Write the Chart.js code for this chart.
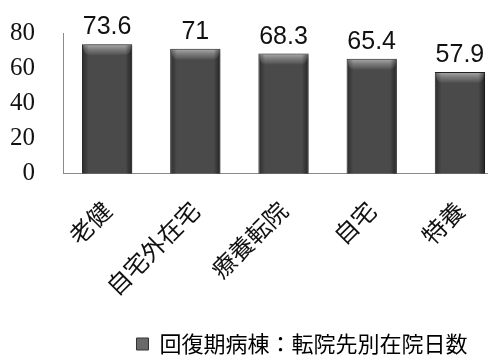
<!DOCTYPE html>
<html>
<head>
<meta charset="utf-8">
<script src="https://cdn.jsdelivr.net/npm/chart.js@4/dist/chart.umd.min.js"></script>
<style>
  html, body { margin: 0; padding: 0; background: #fff; overflow: hidden; }
  #wrap { width: 504px; height: 357px; }
</style>
</head>
<body>
<div id="wrap"><canvas id="c" width="504" height="357"></canvas></div>
<script>
// 転院先別の在院日数（回復期病棟）
const categories = ['老健', '自宅外在宅', '療養転院', '自宅', '特養'];
const stayDays = [73.6, 71, 68.3, 65.4, 57.9];
const yTicks = [0, 20, 40, 60, 80];
const seriesName = '回復期病棟：転院先別在院日数';

const CJK = '"Noto Sans CJK JP", "Noto Sans", sans-serif';

// value labels above each bar, taken from the bar's own data value
const valueLabels = {
  id: 'valueLabels',
  afterDatasetsDraw(chart) {
    const ctx = chart.ctx;
    const meta = chart.getDatasetMeta(0);
    const data = chart.data.datasets[0].data;
    ctx.save();
    ctx.font = '25px "Liberation Sans", Arial, sans-serif';
    ctx.fillStyle = '#111';
    ctx.textAlign = 'center';
    ctx.textBaseline = 'alphabetic';
    meta.data.forEach((bar, i) => {
      ctx.fillText(String(data[i]), bar.x, bar.y - 10);
    });
    ctx.restore();
  }
};

// soft drop shadow behind the bars, then a lighter rounded band along each top
const barBevel = {
  id: 'barBevel',
  beforeDatasetDraw(chart) {
    const ctx = chart.ctx;
    ctx.save();
    ctx.shadowColor = 'rgba(0,0,0,0.30)';
    ctx.shadowOffsetX = 4;
    ctx.shadowOffsetY = 1;
    ctx.shadowBlur = 3;
  },
  afterDatasetDraw(chart) {
    chart.ctx.restore();
  },
  afterDatasetsDraw(chart) {
    const ctx = chart.ctx;
    const meta = chart.getDatasetMeta(0);
    ctx.save();
    meta.data.forEach(bar => {
      const w = bar.width;
      const left = bar.x - w / 2 + 1;
      const top = bar.y + 1;
      const g = ctx.createLinearGradient(0, top, 0, top + 12);
      g.addColorStop(0, 'rgba(170,170,170,0.95)');
      g.addColorStop(0.6, 'rgba(120,120,120,0.6)');
      g.addColorStop(1, 'rgba(80,80,80,0)');
      ctx.fillStyle = g;
      ctx.beginPath();
      ctx.moveTo(left, top);
      ctx.lineTo(left + w - 2, top);
      ctx.quadraticCurveTo(left + w - 2, top + 9, left + w - 8, top + 10);
      ctx.lineTo(left + 6, top + 10);
      ctx.quadraticCurveTo(left, top + 9, left, top);
      ctx.closePath();
      ctx.fill();
      // darker side edges
      const s = ctx.createLinearGradient(left, 0, left + w - 2, 0);
      s.addColorStop(0, 'rgba(0,0,0,0.35)');
      s.addColorStop(0.12, 'rgba(0,0,0,0)');
      s.addColorStop(0.88, 'rgba(0,0,0,0)');
      s.addColorStop(1, 'rgba(0,0,0,0.45)');
      ctx.fillStyle = s;
      ctx.fillRect(left, top, w - 2, bar.base - top);
    });
    ctx.restore();
  }
};

// nudges the legend row within its box
const legendOffset = {
  id: 'legendOffset',
  afterLayout(chart, args, opts) {
    const lg = chart.legend;
    if (lg) {
      lg.left += opts.dx; lg.right += opts.dx;
      lg.top += opts.dy; lg.bottom += opts.dy;
    }
  }
};

new Chart(document.getElementById('c'), {
  type: 'bar',
  data: {
    labels: categories,
    datasets: [{
      label: seriesName,
      data: stayDays,
      backgroundColor: '#4a4a4a',
      borderColor: '#222',
      borderWidth: 1,
      categoryPercentage: 1,
      barPercentage: 0.57
    }]
  },
  options: {
    responsive: false,
    animation: false,
    layout: { padding: { top: 33, left: 0, right: 0, bottom: 0 } },
    scales: {
      x: {
        grid: { display: false },
        border: { display: true, color: '#8a8a8a', width: 1 },
        afterFit(scale) { scale.paddingLeft = 0; scale.paddingRight = 0; },
        ticks: {
          autoSkip: false,
          minRotation: 45,
          maxRotation: 45,
          padding: 14,
          color: '#111',
          font: { family: CJK, size: 24 }
        }
      },
      y: {
        min: 0,
        max: 80,
        afterBuildTicks(scale) { scale.ticks = yTicks.map(v => ({ value: v })); },
        afterFit(scale) { scale.width = 63; scale.paddingTop = 0; scale.paddingBottom = 0; },
        grid: { display: false, drawTicks: false },
        border: { display: true, color: '#8a8a8a', width: 1 },
        ticks: {
          padding: 28,
          color: '#111',
          font: { family: '"Liberation Serif", "Times New Roman", serif', size: 25 }
        }
      }
    },
    plugins: {
      legendOffset: { dx: 50, dy: 8 },
      legend: {
        position: 'bottom',
        labels: {
          boxWidth: 12,
          boxHeight: 12,
          padding: 10,
          color: '#111',
          font: { family: CJK, size: 22 },
          generateLabels(chart) {
            return [{
              text: seriesName,
              fillStyle: '#6a6a6a',
              strokeStyle: '#333',
              lineWidth: 1,
              datasetIndex: 0
            }];
          }
        }
      },
      tooltip: { enabled: false }
    }
  },
  plugins: [valueLabels, barBevel, legendOffset]
});
</script>
</body>
</html>
